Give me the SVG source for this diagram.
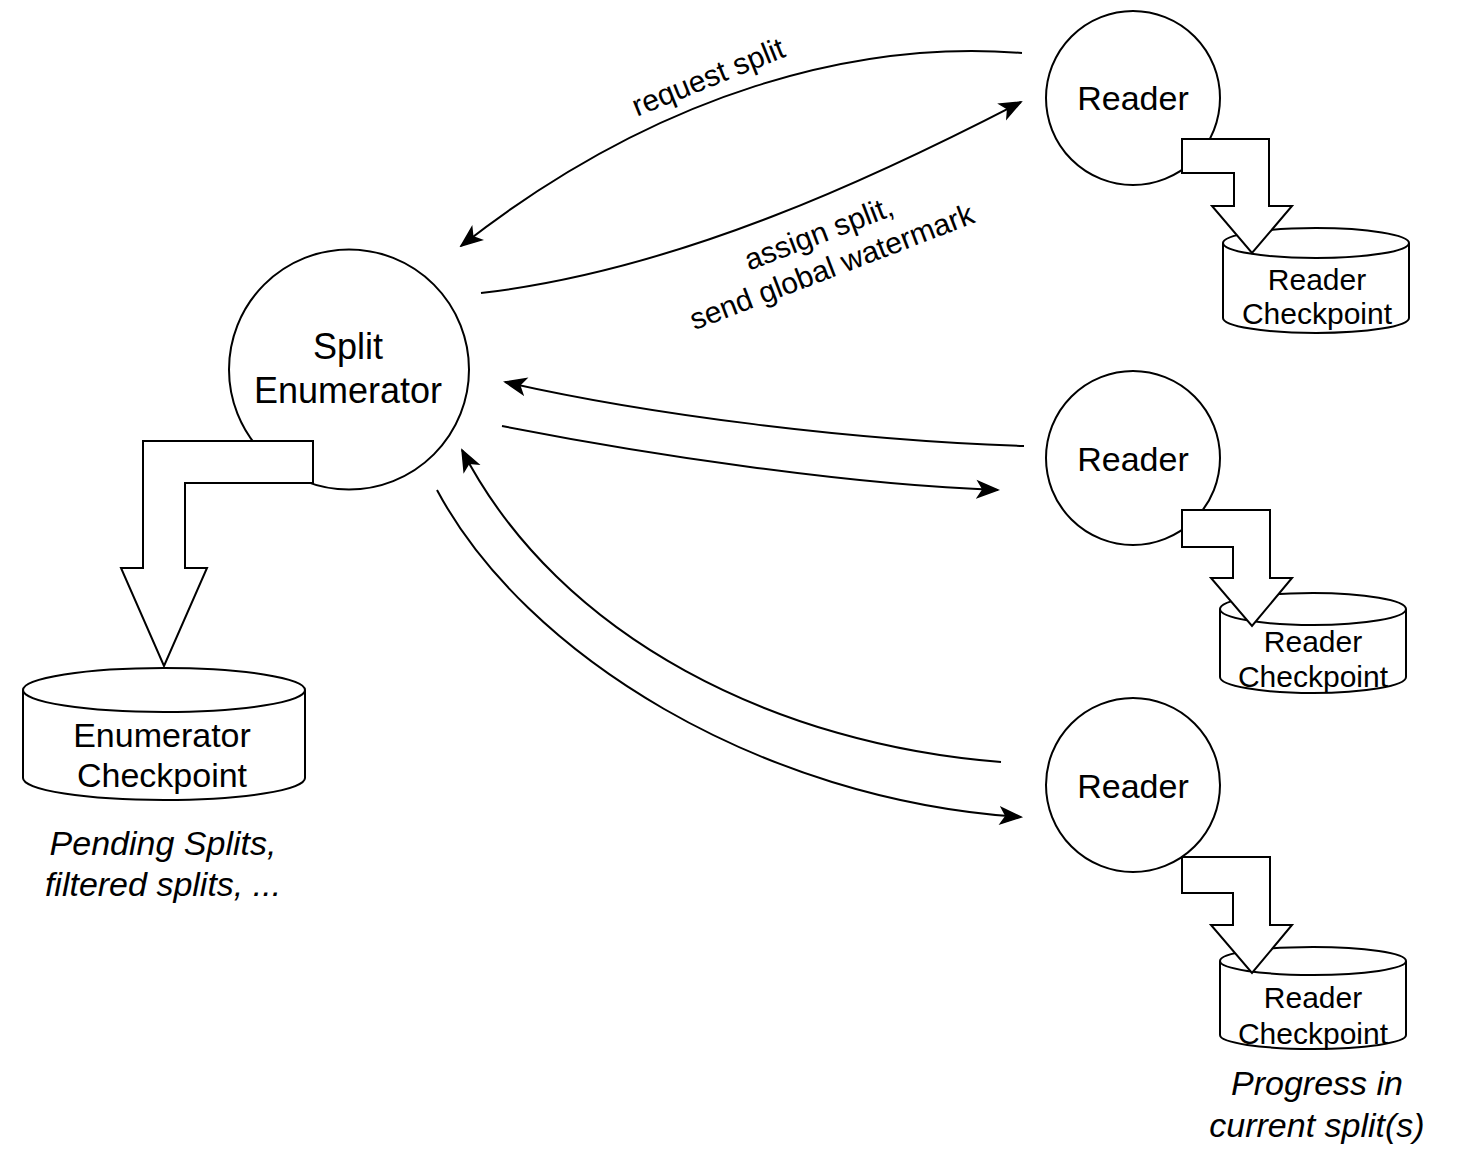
<svg xmlns="http://www.w3.org/2000/svg" width="1472" height="1156" viewBox="0 0 1472 1156">
  <style>
    .shape { fill: #ffffff; stroke: #000000; stroke-width: 2; }
    .edge { fill: none; stroke: #000000; stroke-width: 2; }
    .lbl { font-family: "Liberation Sans", Arial, Helvetica, sans-serif; fill: #000000; text-anchor: middle; }
    .big { font-size: 36px; }
    .mid { font-size: 34px; }
    .small { font-size: 30px; }
    .edgelbl { font-size: 30px; }
    .note { font-size: 34px; font-style: italic; }
  </style>
  <defs>
    <marker id="arrow" viewBox="-22 -10 24 20" refX="0" refY="0" markerWidth="24" markerHeight="20" markerUnits="userSpaceOnUse" orient="auto">
      <path d="M0,0 L-20,-8 L-15,0 L-20,8 Z" fill="#000000" stroke="#000000" stroke-width="1.5" stroke-linejoin="miter"/>
    </marker>
  </defs>
  <rect width="1472" height="1156" fill="#ffffff"/>

  <!-- message connectors between the enumerator and the readers -->
  <g id="connectors">
    <path class="edge" d="M1022,53 C860,40 660,90 461,246" marker-end="url(#arrow)"/>
    <path class="edge" d="M481,293 C680,270 880,175 1021,102" marker-end="url(#arrow)"/>
    <path class="edge" d="M1024,446 C850,440 650,415 505,382" marker-end="url(#arrow)"/>
    <path class="edge" d="M502,426 C650,455 850,485 998,490" marker-end="url(#arrow)"/>
    <path class="edge" d="M1001,762 C780,745 560,640 462,450" marker-end="url(#arrow)"/>
    <path class="edge" d="M437,490 C525,655 760,800 1021,817" marker-end="url(#arrow)"/>
    <text class="lbl edgelbl" x="709" y="87" transform="rotate(-22 709 79)">request split</text>
    <g transform="rotate(-21 826 252)">
      <text class="lbl edgelbl" x="826" y="242">assign split,</text>
      <text class="lbl edgelbl" x="826" y="278">send global watermark</text>
    </g>
  </g>

  <!-- split enumerator and its checkpoint -->
  <g id="split-enumerator">
    <circle class="shape" cx="349" cy="369.5" r="120"/>
    <text class="lbl big" x="348" y="359">Split</text>
    <text class="lbl big" x="348" y="403">Enumerator</text>
  </g>
  <g id="enumerator-checkpoint">
    <path class="shape" d="M23,690 A141,22 0 0 1 305,690 V778 A141,22 0 0 1 23,778 Z"/>
    <path class="edge" d="M23,690 A141,22 0 0 0 305,690"/>
    <text class="lbl mid" x="162" y="747">Enumerator</text>
    <text class="lbl mid" x="162" y="787">Checkpoint</text>
  </g>
  <g id="enumerator-snapshot">
    <polygon class="shape" points="313,441 143,441 143,568 121,568 164,666 207,568 185,568 185,483 313,483"/>
  </g>
  <g id="enumerator-note">
    <text class="lbl note" x="163" y="855">Pending Splits,</text>
    <text class="lbl note" x="163" y="896">filtered splits, ...</text>
  </g>

  <!-- reader 1 -->
  <g id="reader-1">
    <circle class="shape" cx="1133" cy="98" r="87"/>
    <text class="lbl mid" x="1133" y="110">Reader</text>
  </g>
  <g id="reader-checkpoint-1">
    <path class="shape" d="M1223,243 A93,15 0 0 1 1409,243 V318 A93,15 0 0 1 1223,318 Z"/>
    <path class="edge" d="M1223,243 A93,15 0 0 0 1409,243"/>
    <text class="lbl small" x="1317" y="290">Reader</text>
    <text class="lbl small" x="1317" y="324">Checkpoint</text>
  </g>
  <g id="reader-snapshot-1">
    <polygon class="shape" points="1182,139 1269,139 1269,206 1292,206 1252,253 1212,206 1234,206 1234,173 1182,173"/>
  </g>

  <!-- reader 2 -->
  <g id="reader-2">
    <circle class="shape" cx="1133" cy="458" r="87"/>
    <text class="lbl mid" x="1133" y="471">Reader</text>
  </g>
  <g id="reader-checkpoint-2">
    <path class="shape" d="M1220,609 A93,16 0 0 1 1406,609 V677 A93,16 0 0 1 1220,677 Z"/>
    <path class="edge" d="M1220,609 A93,16 0 0 0 1406,609"/>
    <text class="lbl small" x="1313" y="652">Reader</text>
    <text class="lbl small" x="1313" y="687">Checkpoint</text>
  </g>
  <g id="reader-snapshot-2">
    <polygon class="shape" points="1182,510 1270,510 1270,578 1292,578 1252,626 1211,578 1233,578 1233,547 1182,547"/>
  </g>

  <!-- reader 3 -->
  <g id="reader-3">
    <circle class="shape" cx="1133" cy="785" r="87"/>
    <text class="lbl mid" x="1133" y="798">Reader</text>
  </g>
  <g id="reader-checkpoint-3">
    <path class="shape" d="M1220,961 A93,14 0 0 1 1406,961 V1035 A93,14 0 0 1 1220,1035 Z"/>
    <path class="edge" d="M1220,961 A93,14 0 0 0 1406,961"/>
    <text class="lbl small" x="1313" y="1008">Reader</text>
    <text class="lbl small" x="1313" y="1044">Checkpoint</text>
  </g>
  <g id="reader-snapshot-3">
    <polygon class="shape" points="1182,857 1270,857 1270,925 1292,925 1252,973 1211,925 1233,925 1233,893 1182,893"/>
  </g>
  <g id="reader-note">
    <text class="lbl note" x="1317" y="1095">Progress in</text>
    <text class="lbl note" x="1317" y="1137">current split(s)</text>
  </g>
</svg>
